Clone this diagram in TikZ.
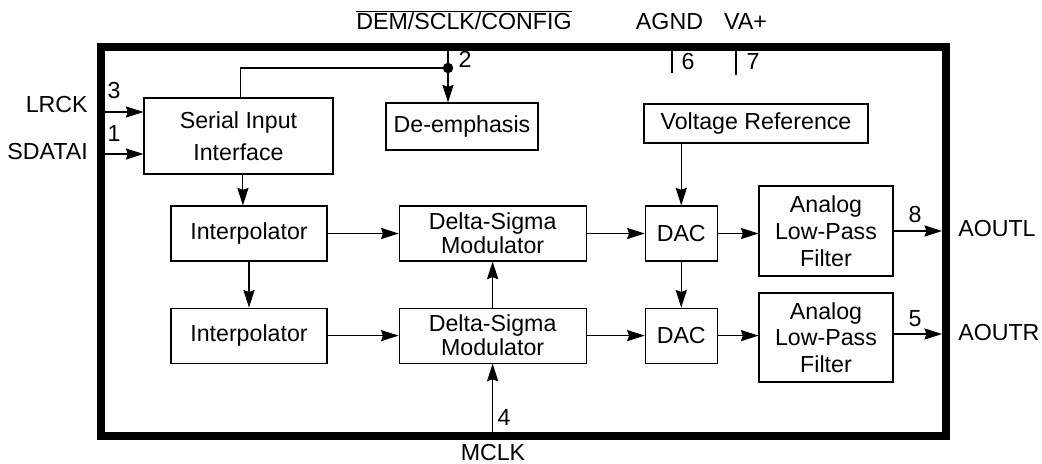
\documentclass[tikz,border=0pt]{standalone}
\usepackage{fontspec}
\setmainfont{Liberation Sans}
\usetikzlibrary{positioning,arrows.meta,calc}
\tikzset{
  blok/.style={draw,line width=0.8pt,inner sep=0pt,align=center,minimum height=13.75mm},
  sip/.style={-{Stealth[length=4.4mm,width=2.8mm,inset=0.5mm]},line width=0.8pt},
  hrana/.style={line width=0.8pt},
  popis/.style={inner sep=0pt},
}

\begin{document}
\begin{tikzpicture}[x=0.25mm,y=-0.25mm,font=\fontsize{16.5}{17}\selectfont]
  \useasboundingbox (0,0) rectangle (1042,464);
  \draw[line width=2mm] (101,47) rectangle (946,436);
  % bloky
  \node[blok,minimum width=47.25mm,minimum height=19mm] (ser) at (238.5,136) {Serial Input\\[6pt]Interface};
  \node[blok,minimum width=38mm,minimum height=11.75mm] (deemf) at (462,126.5) {De-emphasis};
  \node[blok,minimum width=56mm,minimum height=9.75mm] (vref) at (756,123.5) {Voltage Reference};
  \node[blok,minimum width=39mm] (int1) at (249,233.5) {Interpolator};
  \node[blok,minimum width=46.75mm,right=17.75mm of int1] (ds1) {Delta-Sigma\\Modulator};
  \node[blok,minimum width=18mm,right=14.5mm of ds1] (dac1) {DAC};
  \node[blok,minimum width=39mm,below=11.5mm of int1] (int2) {Interpolator};
  \node[blok,minimum width=46.75mm,below=11.5mm of ds1] (ds2) {Delta-Sigma\\Modulator};
  \node[blok,minimum width=18mm,below=11.5mm of dac1] (dac2) {DAC};
  \node[blok,minimum width=33.5mm,minimum height=22.5mm] (lpf1) at (826,231) {Analog\\[2pt]Low-Pass\\[2pt]Filter};
  \node[blok,minimum width=33.5mm,minimum height=22.25mm] (lpf2) at (826,337.5) {Analog\\[2pt]Low-Pass\\[2pt]Filter};
  % vyvody
  \coordinate (p3) at (105,112); \coordinate (p1) at (105,154);
  \coordinate (p2) at (448,51); \coordinate (uzel) at (448,68);
  \coordinate (p6a) at (672,51); \coordinate (p6b) at (672,73);
  \coordinate (p7a) at (736,51); \coordinate (p7b) at (736,75);
  \coordinate (dno) at (0,432);
  \coordinate (p8) at (942,231); \coordinate (p5) at (942,334);
  \draw[sip] (p3) -- (p3 -| ser.west);
  \draw[sip] (p1) -- (p1 -| ser.west);
  \draw[sip] (p2) -- (p2 |- deemf.north);
  \fill (uzel) circle[radius=1.3mm];
  \draw[hrana] (uzel) -| ([xshift=0.6mm]ser.north);
  \draw[hrana] (p6a) -- (p6b); \draw[hrana] (p7a) -- (p7b);
  \draw[sip] ([xshift=1.1mm]ser.south) -- ([xshift=1.1mm]ser.south |- int1.north);
  \draw[sip] (int1) -- (int2);
  \draw[sip] (int1) -- (ds1); \draw[sip] (int2) -- (ds2);
  \draw[sip] (ds2) -- (ds1);
  \draw[sip] (ds2.south |- dno) -- (ds2.south);
  \draw[sip] (ds1) -- (dac1); \draw[sip] (ds2) -- (dac2);
  \draw[sip] (vref.south -| dac1.north) -- (dac1.north);
  \draw[sip] (dac1) -- (dac2);
  \draw[sip] (dac1.east) -- (dac1.east -| lpf1.west);
  \draw[sip] (dac2.east) -- (dac2.east -| lpf2.west);
  \draw[sip] (lpf1.east |- p8) -- (p8);
  \draw[sip] (lpf2.east |- p5) -- (p5);
  % popisky
  \node[popis,anchor=base east] (lrck) at (88,113) {LRCK};
  \node[popis,anchor=base east] (sdatai) at (88,160) {SDATAI};
  \node[popis,anchor=base] (dem) at (464,30) {$\overline{\mbox{DEM/SCLK/CONFIG}}$};
  \node[popis,anchor=base] (agnd) at (669.5,30) {AGND};
  \node[popis,anchor=base] (vaplus) at (745.5,30) {VA+};
  \node[popis,anchor=base] (mclk) at (493,460) {MCLK};
  \node[popis,anchor=base west] (aoutl) at (958,236) {AOUTL};
  \node[popis,anchor=base west] (aoutr) at (958,340) {AOUTR};
  \node[popis,anchor=base] (c3) at (114,99) {3};
  \node[popis,anchor=base] (c1) at (114,142) {1};
  \node[popis,anchor=base] (c2) at (465,68) {2};
  \node[popis,anchor=base] (c6) at (688,70) {6};
  \node[popis,anchor=base] (c7) at (753,70) {7};
  \node[popis,anchor=base] (c4) at (504,425) {4};
  \node[popis,anchor=base] (c8) at (915,223) {8};
  \node[popis,anchor=base] (c5) at (915,326) {5};
\end{tikzpicture}
\end{document}
